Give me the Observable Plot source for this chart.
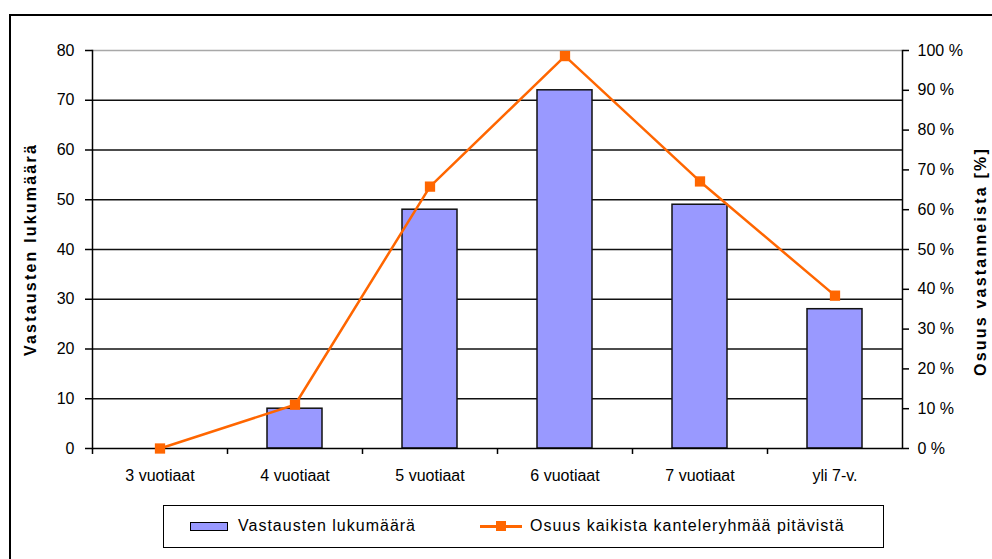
<!DOCTYPE html>
<html><head><meta charset="utf-8">
<script src="https://cdn.jsdelivr.net/npm/d3@7"></script>
<script src="https://cdn.jsdelivr.net/npm/@observablehq/plot@0.6"></script>
<style>
body{margin:0;background:#fff;font-family:"Liberation Sans",Arial,sans-serif;}
#wrap{position:relative;width:992px;height:559px;overflow:hidden;background:#fff;}
#border{position:absolute;left:9px;top:14px;width:1000px;height:600px;border:2px solid #000;box-sizing:border-box;}
#chart{position:absolute;left:0;top:0;}
#chart g[font-weight="bold"] text{letter-spacing:2.2px;}
#legend{position:absolute;left:163px;top:505px;width:721px;height:43px;border:1.5px solid #000;box-sizing:border-box;font-size:16px;letter-spacing:1px;color:#000;}
.item{position:absolute;top:0;height:40px;display:flex;align-items:center;}
.sw-bar{width:38px;height:9px;background:#9999FF;border:1.5px solid #000;box-sizing:border-box;margin-right:10px;}
.sw-line{position:relative;width:42px;height:10px;margin-right:8px;}
.sw-line .ln{position:absolute;left:0;right:0;top:4px;height:2.5px;background:#FF6600;}
.sw-line .mk{position:absolute;left:16px;top:0;width:10px;height:10px;background:#FF6600;}
</style></head>
<body>
<div id="wrap">
  <div id="border"></div>
  <div id="chart"></div>
  <div id="legend">
    <div class="item" style="left:26px"><div class="sw-bar"></div><span>Vastausten lukumäärä</span></div>
    <div class="item" style="left:316px"><div class="sw-line"><div class="ln"></div><div class="mk"></div></div><span>Osuus kaikista kanteleryhmää pitävistä</span></div>
  </div>
</div>
<script>
const categories = ["3 vuotiaat", "4 vuotiaat", "5 vuotiaat", "6 vuotiaat", "7 vuotiaat", "yli 7-v."];
const counts = [0, 8, 48, 72, 49, 28];
const sharesPct = [0, 11, 65.8, 98.6, 67.1, 38.4];
const leftTicks = [0, 10, 20, 30, 40, 50, 60, 70, 80];
const rightTicks = [0, 10, 20, 30, 40, 50, 60, 70, 80, 90, 100];
const leftTitle = "Vastausten lukumäärä";
const rightTitle = "Osuus vastanneista [%]";

const countMax = 80, pctMax = 100;
const k = countMax / pctMax;

const bars = categories.map((c, i) => ({cat: c, n: counts[i]})).filter(d => d.n > 0);
const line = categories.map((c, i) => ({cat: c, v: sharesPct[i] * k}));
const bounds = categories.map(c => ({cat: c}));

const plot = Plot.plot({
  width: 992,
  height: 500,
  marginLeft: 92,
  marginRight: 90,
  marginTop: 50,
  marginBottom: 52,
  style: {fontFamily: '"Liberation Sans", Arial, sans-serif', fontSize: "16px", background: "transparent", color: "#000"},
  x: {domain: categories, paddingInner: 0.593, paddingOuter: 0.2965, label: null},
  y: {domain: [0, countMax], label: null},
  marks: [
    Plot.ruleY(leftTicks.filter(t => t > 0 && t < countMax), {stroke: "#111", strokeWidth: 1.5}),
    Plot.ruleY([countMax], {stroke: "#a8a8a8", strokeWidth: 1.5}),
    Plot.barY(bars, {x: "cat", y: "n", fill: "#9999FF", stroke: "#111", strokeWidth: 1.5}),
    Plot.ruleX(bounds, {x: "cat", y1: 0, y2: -1.2, dx: -67.5, stroke: "#000", strokeWidth: 1.5}),
    Plot.ruleY([0], {stroke: "#000", strokeWidth: 1.5}),
    Plot.axisY({anchor: "left", ticks: leftTicks, tickSize: 7, tickPadding: 11, strokeWidth: 1.5, label: null, tickFormat: d => String(d)}),
    Plot.axisY({anchor: "right", ticks: rightTicks.map(t => t * k), tickSize: 6, tickPadding: 9, strokeWidth: 1.5, label: null, tickFormat: d => Math.round(d / k) + " %"}),
    Plot.axisX({tickSize: 0, tickPadding: 21, label: null}),
    Plot.frame({anchor: "left", stroke: "#000", strokeWidth: 1.5}),
    Plot.frame({anchor: "right", stroke: "#000", strokeWidth: 1.5}),
    Plot.line(line, {x: "cat", y: "v", stroke: "#FF6600", strokeWidth: 2.5}),
    Plot.dot(line, {x: "cat", y: "v", symbol: "square", r: 5.8, fill: "#FF6600", stroke: "none"}),
    Plot.text([leftTitle], {frameAnchor: "left", textAnchor: "middle", dx: -62, rotate: -90, fontWeight: "bold", fontSize: 16}),
    Plot.text([rightTitle], {frameAnchor: "right", textAnchor: "middle", dx: 78, dy: 12, rotate: -90, fontWeight: "bold", fontSize: 16})
  ]
});
document.getElementById("chart").appendChild(plot);
</script>
</body></html>
